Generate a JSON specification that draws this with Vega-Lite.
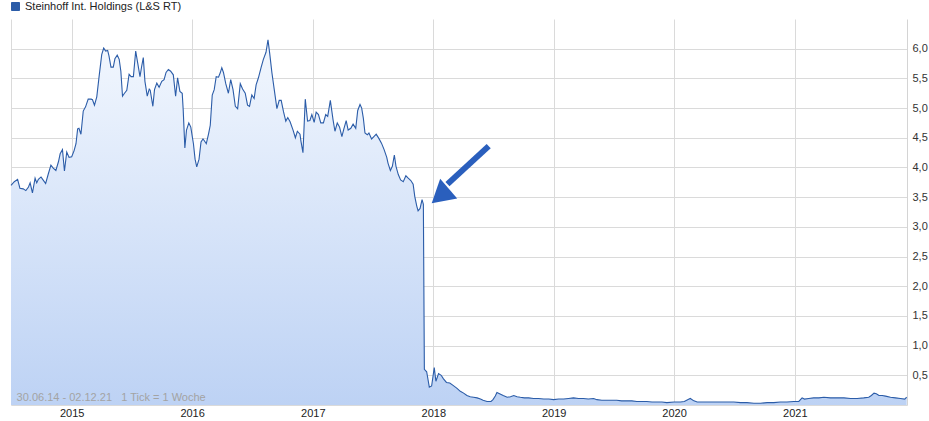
{
  "$schema": "https://vega.github.io/schema/vega-lite/v6.json",
  "width": 896,
  "height": 386,
  "autosize": {"type": "none"},
  "padding": {"left": 11, "top": 19, "right": 22, "bottom": 16},
  "background": "white",
  "config": {
    "font": "Liberation Sans",
    "locale": {"number": {"decimal": ",", "thousands": ".", "grouping": [3], "currency": ["", " €"]}},
    "view": {"stroke": null},
    "axis": {"labelFont": "Liberation Sans", "labelFontSize": 11, "gridColor": "#dadada", "gridWidth": 1, "ticks": false, "title": null, "labelOverlap": false},
    "legend": {"labelFont": "Liberation Sans", "labelFontSize": 11}
  },
  "datasets": {
    "prices": [
      {"date": "2014-07-01", "close": 3.70}, {"date": "2014-07-11", "close": 3.76}, {"date": "2014-07-21", "close": 3.80}, {"date": "2014-07-28", "close": 3.65},
      {"date": "2014-08-07", "close": 3.64}, {"date": "2014-08-15", "close": 3.61}, {"date": "2014-08-23", "close": 3.67}, {"date": "2014-08-28", "close": 3.74},
      {"date": "2014-09-04", "close": 3.57}, {"date": "2014-09-12", "close": 3.82}, {"date": "2014-09-17", "close": 3.74}, {"date": "2014-09-22", "close": 3.80},
      {"date": "2014-09-30", "close": 3.84}, {"date": "2014-10-05", "close": 3.80}, {"date": "2014-10-14", "close": 3.73}, {"date": "2014-10-22", "close": 3.89},
      {"date": "2014-10-30", "close": 4.04}, {"date": "2014-11-06", "close": 3.99}, {"date": "2014-11-14", "close": 3.95}, {"date": "2014-11-22", "close": 4.10},
      {"date": "2014-11-27", "close": 4.23}, {"date": "2014-12-04", "close": 4.30}, {"date": "2014-12-10", "close": 3.94}, {"date": "2014-12-17", "close": 4.26},
      {"date": "2014-12-24", "close": 4.17}, {"date": "2015-01-01", "close": 4.18}, {"date": "2015-01-08", "close": 4.28}, {"date": "2015-01-14", "close": 4.40},
      {"date": "2015-01-19", "close": 4.65}, {"date": "2015-01-23", "close": 4.66}, {"date": "2015-01-29", "close": 4.56}, {"date": "2015-02-05", "close": 4.95},
      {"date": "2015-02-12", "close": 5.02}, {"date": "2015-02-20", "close": 5.15}, {"date": "2015-03-01", "close": 5.15}, {"date": "2015-03-05", "close": 5.14},
      {"date": "2015-03-11", "close": 5.05}, {"date": "2015-03-18", "close": 5.19}, {"date": "2015-03-25", "close": 5.53}, {"date": "2015-04-02", "close": 5.90},
      {"date": "2015-04-08", "close": 6.01}, {"date": "2015-04-14", "close": 5.96}, {"date": "2015-04-20", "close": 5.97}, {"date": "2015-04-24", "close": 5.88},
      {"date": "2015-04-30", "close": 5.69}, {"date": "2015-05-07", "close": 5.69}, {"date": "2015-05-12", "close": 5.83}, {"date": "2015-05-19", "close": 5.89},
      {"date": "2015-05-25", "close": 5.82}, {"date": "2015-05-30", "close": 5.62}, {"date": "2015-06-04", "close": 5.20}, {"date": "2015-06-10", "close": 5.25},
      {"date": "2015-06-17", "close": 5.30}, {"date": "2015-06-24", "close": 5.57}, {"date": "2015-06-30", "close": 5.53}, {"date": "2015-07-07", "close": 5.53},
      {"date": "2015-07-14", "close": 5.96}, {"date": "2015-07-20", "close": 5.76}, {"date": "2015-07-27", "close": 5.53}, {"date": "2015-08-01", "close": 5.70},
      {"date": "2015-08-06", "close": 5.85}, {"date": "2015-08-11", "close": 5.45}, {"date": "2015-08-18", "close": 5.20}, {"date": "2015-08-24", "close": 5.32},
      {"date": "2015-08-27", "close": 5.30}, {"date": "2015-09-04", "close": 5.03}, {"date": "2015-09-09", "close": 5.31}, {"date": "2015-09-16", "close": 5.42},
      {"date": "2015-09-23", "close": 5.35}, {"date": "2015-10-01", "close": 5.45}, {"date": "2015-10-08", "close": 5.48}, {"date": "2015-10-14", "close": 5.60},
      {"date": "2015-10-21", "close": 5.65}, {"date": "2015-10-28", "close": 5.62}, {"date": "2015-11-05", "close": 5.56}, {"date": "2015-11-12", "close": 5.20},
      {"date": "2015-11-18", "close": 5.51}, {"date": "2015-11-25", "close": 5.28}, {"date": "2015-12-02", "close": 5.25}, {"date": "2015-12-05", "close": 4.97},
      {"date": "2015-12-10", "close": 4.33}, {"date": "2015-12-15", "close": 4.63}, {"date": "2015-12-22", "close": 4.75}, {"date": "2015-12-28", "close": 4.68},
      {"date": "2016-01-05", "close": 4.40}, {"date": "2016-01-10", "close": 4.14}, {"date": "2016-01-15", "close": 4.01}, {"date": "2016-01-22", "close": 4.14},
      {"date": "2016-01-28", "close": 4.43}, {"date": "2016-02-03", "close": 4.48}, {"date": "2016-02-07", "close": 4.45}, {"date": "2016-02-13", "close": 4.40},
      {"date": "2016-02-20", "close": 4.57}, {"date": "2016-02-25", "close": 4.71}, {"date": "2016-03-02", "close": 5.22}, {"date": "2016-03-08", "close": 5.31},
      {"date": "2016-03-14", "close": 5.53}, {"date": "2016-03-21", "close": 5.52}, {"date": "2016-03-26", "close": 5.59}, {"date": "2016-03-31", "close": 5.68},
      {"date": "2016-04-05", "close": 5.60}, {"date": "2016-04-12", "close": 5.41}, {"date": "2016-04-20", "close": 5.25}, {"date": "2016-04-27", "close": 5.48},
      {"date": "2016-05-04", "close": 5.31}, {"date": "2016-05-11", "close": 5.03}, {"date": "2016-05-18", "close": 4.99}, {"date": "2016-05-26", "close": 5.41},
      {"date": "2016-06-02", "close": 5.32}, {"date": "2016-06-10", "close": 5.25}, {"date": "2016-06-17", "close": 5.05}, {"date": "2016-06-23", "close": 5.03},
      {"date": "2016-06-30", "close": 5.22}, {"date": "2016-07-07", "close": 5.16}, {"date": "2016-07-13", "close": 5.39}, {"date": "2016-07-20", "close": 5.51},
      {"date": "2016-07-28", "close": 5.68}, {"date": "2016-08-04", "close": 5.82}, {"date": "2016-08-12", "close": 5.94}, {"date": "2016-08-18", "close": 6.15},
      {"date": "2016-08-23", "close": 5.93}, {"date": "2016-08-30", "close": 5.59}, {"date": "2016-09-06", "close": 5.31}, {"date": "2016-09-14", "close": 4.99},
      {"date": "2016-09-21", "close": 5.13}, {"date": "2016-09-27", "close": 5.13}, {"date": "2016-10-04", "close": 4.94}, {"date": "2016-10-11", "close": 4.78},
      {"date": "2016-10-17", "close": 4.84}, {"date": "2016-10-24", "close": 4.77}, {"date": "2016-11-02", "close": 4.63}, {"date": "2016-11-09", "close": 4.50},
      {"date": "2016-11-15", "close": 4.61}, {"date": "2016-11-23", "close": 4.56}, {"date": "2016-11-26", "close": 4.44}, {"date": "2016-12-02", "close": 4.25},
      {"date": "2016-12-09", "close": 5.15}, {"date": "2016-12-16", "close": 4.78}, {"date": "2016-12-23", "close": 4.79}, {"date": "2016-12-29", "close": 4.89},
      {"date": "2017-01-05", "close": 4.76}, {"date": "2017-01-11", "close": 4.93}, {"date": "2017-01-18", "close": 4.89}, {"date": "2017-01-25", "close": 4.75},
      {"date": "2017-02-02", "close": 4.75}, {"date": "2017-02-09", "close": 4.89}, {"date": "2017-02-15", "close": 4.86}, {"date": "2017-02-23", "close": 5.13},
      {"date": "2017-03-03", "close": 4.81}, {"date": "2017-03-09", "close": 4.61}, {"date": "2017-03-16", "close": 4.75}, {"date": "2017-03-23", "close": 4.68},
      {"date": "2017-03-30", "close": 4.52}, {"date": "2017-04-05", "close": 4.65}, {"date": "2017-04-12", "close": 4.79}, {"date": "2017-04-18", "close": 4.63},
      {"date": "2017-04-26", "close": 4.66}, {"date": "2017-05-03", "close": 4.73}, {"date": "2017-05-11", "close": 4.66}, {"date": "2017-05-17", "close": 4.96},
      {"date": "2017-05-24", "close": 5.06}, {"date": "2017-05-29", "close": 5.00}, {"date": "2017-06-03", "close": 4.83}, {"date": "2017-06-08", "close": 4.58},
      {"date": "2017-06-15", "close": 4.55}, {"date": "2017-06-20", "close": 4.58}, {"date": "2017-06-28", "close": 4.48}, {"date": "2017-07-05", "close": 4.52},
      {"date": "2017-07-12", "close": 4.56}, {"date": "2017-07-20", "close": 4.49}, {"date": "2017-07-28", "close": 4.41}, {"date": "2017-08-05", "close": 4.30},
      {"date": "2017-08-13", "close": 4.17}, {"date": "2017-08-17", "close": 4.07}, {"date": "2017-08-24", "close": 3.95}, {"date": "2017-08-30", "close": 4.02},
      {"date": "2017-09-05", "close": 4.21}, {"date": "2017-09-10", "close": 4.02}, {"date": "2017-09-17", "close": 3.88}, {"date": "2017-09-24", "close": 3.79},
      {"date": "2017-10-02", "close": 3.76}, {"date": "2017-10-10", "close": 3.86}, {"date": "2017-10-17", "close": 3.82}, {"date": "2017-10-25", "close": 3.78},
      {"date": "2017-11-01", "close": 3.72}, {"date": "2017-11-06", "close": 3.51}, {"date": "2017-11-12", "close": 3.35}, {"date": "2017-11-16", "close": 3.27},
      {"date": "2017-11-22", "close": 3.31}, {"date": "2017-11-28", "close": 3.46}, {"date": "2017-12-02", "close": 3.38}, {"date": "2017-12-05", "close": 0.60},
      {"date": "2017-12-12", "close": 0.56}, {"date": "2017-12-20", "close": 0.30}, {"date": "2017-12-27", "close": 0.32}, {"date": "2018-01-04", "close": 0.63},
      {"date": "2018-01-09", "close": 0.40}, {"date": "2018-01-17", "close": 0.53}, {"date": "2018-01-25", "close": 0.50}, {"date": "2018-02-01", "close": 0.44},
      {"date": "2018-02-10", "close": 0.38}, {"date": "2018-02-20", "close": 0.37}, {"date": "2018-03-02", "close": 0.33}, {"date": "2018-03-14", "close": 0.28},
      {"date": "2018-03-24", "close": 0.23}, {"date": "2018-04-03", "close": 0.20}, {"date": "2018-04-13", "close": 0.16}, {"date": "2018-04-23", "close": 0.14},
      {"date": "2018-05-03", "close": 0.13}, {"date": "2018-05-14", "close": 0.12}, {"date": "2018-05-24", "close": 0.10}, {"date": "2018-06-01", "close": 0.08},
      {"date": "2018-06-13", "close": 0.06}, {"date": "2018-06-25", "close": 0.06}, {"date": "2018-07-01", "close": 0.09}, {"date": "2018-07-08", "close": 0.15},
      {"date": "2018-07-13", "close": 0.21}, {"date": "2018-07-21", "close": 0.19}, {"date": "2018-08-01", "close": 0.16}, {"date": "2018-08-13", "close": 0.13},
      {"date": "2018-08-23", "close": 0.14}, {"date": "2018-09-02", "close": 0.16}, {"date": "2018-09-12", "close": 0.14}, {"date": "2018-09-22", "close": 0.13},
      {"date": "2018-10-04", "close": 0.12}, {"date": "2018-10-17", "close": 0.12}, {"date": "2018-11-01", "close": 0.11}, {"date": "2018-11-16", "close": 0.11},
      {"date": "2018-12-02", "close": 0.10}, {"date": "2018-12-17", "close": 0.10}, {"date": "2019-01-01", "close": 0.09}, {"date": "2019-01-16", "close": 0.10},
      {"date": "2019-01-31", "close": 0.10}, {"date": "2019-02-15", "close": 0.11}, {"date": "2019-03-02", "close": 0.12}, {"date": "2019-03-17", "close": 0.11},
      {"date": "2019-04-01", "close": 0.11}, {"date": "2019-04-16", "close": 0.10}, {"date": "2019-05-02", "close": 0.11}, {"date": "2019-05-12", "close": 0.09},
      {"date": "2019-05-27", "close": 0.08}, {"date": "2019-06-11", "close": 0.08}, {"date": "2019-06-26", "close": 0.08}, {"date": "2019-07-11", "close": 0.08},
      {"date": "2019-07-26", "close": 0.07}, {"date": "2019-08-11", "close": 0.07}, {"date": "2019-08-26", "close": 0.07}, {"date": "2019-09-10", "close": 0.06},
      {"date": "2019-09-25", "close": 0.06}, {"date": "2019-10-10", "close": 0.06}, {"date": "2019-10-26", "close": 0.05}, {"date": "2019-11-10", "close": 0.05},
      {"date": "2019-11-25", "close": 0.05}, {"date": "2019-12-10", "close": 0.04}, {"date": "2020-01-01", "close": 0.05}, {"date": "2020-01-20", "close": 0.05},
      {"date": "2020-02-01", "close": 0.06}, {"date": "2020-02-11", "close": 0.09}, {"date": "2020-02-19", "close": 0.11}, {"date": "2020-03-01", "close": 0.07},
      {"date": "2020-03-11", "close": 0.05}, {"date": "2020-03-26", "close": 0.05}, {"date": "2020-04-10", "close": 0.05}, {"date": "2020-04-30", "close": 0.05},
      {"date": "2020-05-21", "close": 0.05}, {"date": "2020-06-10", "close": 0.05}, {"date": "2020-06-30", "close": 0.05}, {"date": "2020-07-20", "close": 0.04},
      {"date": "2020-08-09", "close": 0.04}, {"date": "2020-08-30", "close": 0.03}, {"date": "2020-09-19", "close": 0.03}, {"date": "2020-10-09", "close": 0.04},
      {"date": "2020-10-29", "close": 0.04}, {"date": "2020-11-18", "close": 0.05}, {"date": "2020-12-08", "close": 0.05}, {"date": "2020-12-29", "close": 0.06},
      {"date": "2021-01-13", "close": 0.06}, {"date": "2021-01-23", "close": 0.12}, {"date": "2021-01-30", "close": 0.10}, {"date": "2021-02-12", "close": 0.11},
      {"date": "2021-02-27", "close": 0.12}, {"date": "2021-03-15", "close": 0.12}, {"date": "2021-03-30", "close": 0.13}, {"date": "2021-04-19", "close": 0.12},
      {"date": "2021-05-09", "close": 0.12}, {"date": "2021-05-30", "close": 0.12}, {"date": "2021-06-19", "close": 0.11}, {"date": "2021-07-09", "close": 0.11},
      {"date": "2021-07-29", "close": 0.12}, {"date": "2021-08-13", "close": 0.13}, {"date": "2021-08-21", "close": 0.16}, {"date": "2021-08-29", "close": 0.20},
      {"date": "2021-09-05", "close": 0.19}, {"date": "2021-09-13", "close": 0.16}, {"date": "2021-09-23", "close": 0.16}, {"date": "2021-10-03", "close": 0.15},
      {"date": "2021-10-18", "close": 0.13}, {"date": "2021-11-02", "close": 0.12}, {"date": "2021-11-17", "close": 0.11}, {"date": "2021-11-30", "close": 0.10},
      {"date": "2021-12-06", "close": 0.13}
    ],
    "arrow": [
      {"from": "2018-06-18", "fromV": 4.36, "to": "2018-02-13", "toV": 3.72, "tip": "2018-01-22", "tipV": 3.52}
    ],
    "note": [
      {"date": "2014-07-18", "value": 0.07, "label": "30.06.14 - 02.12.21\u00a0\u00a0\u00a01 Tick = 1 Woche"}
    ]
  },
  "layer": [
    {
      "data": {"name": "prices"},
      "mark": {
        "type": "area",
        "color": {"gradient": "linear", "x1": 0, "y1": 0, "x2": 0, "y2": 1,
          "stops": [{"offset": 0, "color": "#f2f7fe"}, {"offset": 1, "color": "#bdd2f4"}]}
      },
      "encoding": {
        "x": {
          "field": "date", "type": "temporal",
          "scale": {"type": "utc", "domain": [{"year": 2014, "month": 7, "date": 1, "utc": true}, {"year": 2021, "month": 12, "date": 7, "utc": true}]},
          "axis": {
            "orient": "bottom", "grid": true, "domain": true, "domainColor": "#dadada",
            "tickCount": 30,
            "values": [
              {"year": 2014, "month": 7, "date": 1, "utc": true},
              {"year": 2015, "month": 1, "date": 1, "utc": true},
              {"year": 2016, "month": 1, "date": 1, "utc": true},
              {"year": 2017, "month": 1, "date": 1, "utc": true},
              {"year": 2018, "month": 1, "date": 1, "utc": true},
              {"year": 2019, "month": 1, "date": 1, "utc": true},
              {"year": 2020, "month": 1, "date": 1, "utc": true},
              {"year": 2021, "month": 1, "date": 1, "utc": true}
            ],
            "labelExpr": "utcmonth(datum.value) == 0 ? utcFormat(datum.value, '%Y') : ''",
            "labelPadding": 2, "labelColor": "#222222", "labelFlush": false, "labelOverlap": false
          }
        },
        "y": {
          "field": "close", "type": "quantitative",
          "scale": {"domain": [0, 6.5], "nice": false, "zero": false},
          "axis": {
            "orient": "right", "grid": true, "domain": true, "domainColor": "#d4d4d4",
            "tickCount": 30,
            "values": [0.5, 1, 1.5, 2, 2.5, 3, 3.5, 4, 4.5, 5, 5.5, 6],
            "format": ".1f",
            "labelOverlap": false, "labelFlush": false,
            "labelPadding": 5, "labelColor": "#333333"
          }
        }
      }
    },
    {
      "data": {"name": "prices"},
      "mark": {"type": "line", "strokeWidth": 1.1},
      "encoding": {
        "x": {"field": "date", "type": "temporal"},
        "y": {"field": "close", "type": "quantitative"},
        "color": {
          "datum": "Steinhoff Int. Holdings (L&S RT)", "type": "nominal",
          "scale": {"range": ["#2b5ca8"]},
          "legend": {
            "orient": "none", "legendX": -1, "legendY": -18, "title": null,
            "symbolType": "square", "symbolSize": 64, "labelOffset": 4, "padding": 0,
            "labelColor": "#222222", "labelFontSize": 11,
            "encode": {"symbols": {"update": {"fill": {"value": "#2b5ca8"}, "stroke": {"value": "#1b3a70"}, "strokeWidth": {"value": 1}, "opacity": {"value": 1}}}}
          }
        }
      }
    },
    {
      "data": {"name": "note"},
      "mark": {"type": "text", "align": "left", "baseline": "alphabetic", "fontSize": 11, "color": "#a3a3a3"},
      "encoding": {
        "x": {"field": "date", "type": "temporal"},
        "y": {"field": "value", "type": "quantitative"},
        "text": {"field": "label"}
      }
    },
    {
      "data": {"name": "arrow"},
      "mark": {"type": "rule", "strokeWidth": 6, "strokeCap": "butt", "color": "#2a5fbd"},
      "encoding": {
        "x": {"field": "from", "type": "temporal"},
        "y": {"field": "fromV", "type": "quantitative"},
        "x2": {"field": "to"},
        "y2": {"field": "toV"}
      }
    },
    {
      "data": {"name": "arrow"},
      "mark": {"type": "point", "shape": "triangle-up", "size": 676, "angle": 229, "filled": true, "color": "#2a5fbd", "opacity": 1},
      "encoding": {
        "x": {"field": "tip", "type": "temporal"},
        "y": {"field": "tipV", "type": "quantitative"}
      }
    }
  ]
}
